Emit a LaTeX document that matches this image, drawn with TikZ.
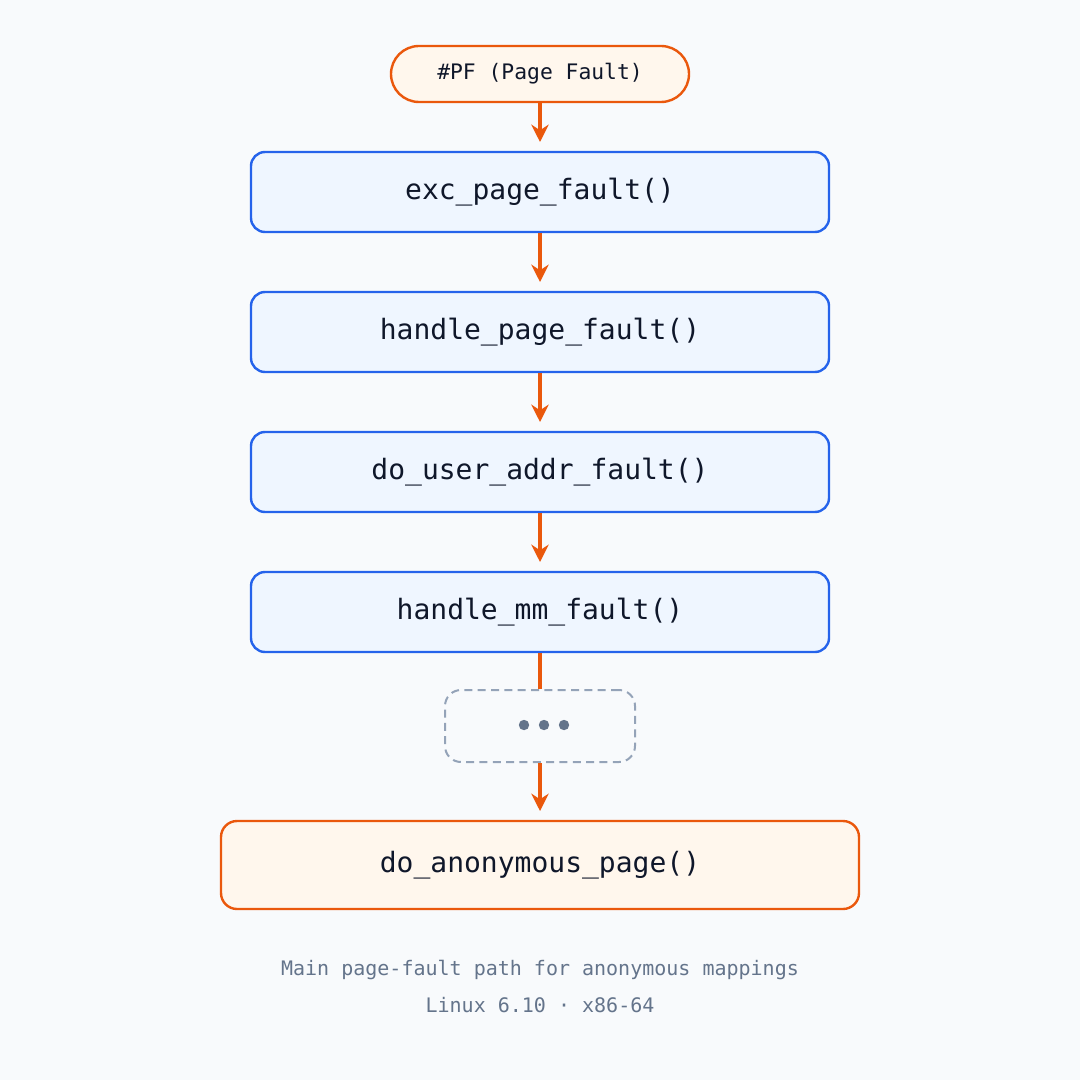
\documentclass[tikz,border=0pt]{standalone}
\usepackage{fontspec}
\setmonofont{DejaVu Sans Mono}
\usetikzlibrary{arrows.meta}
\definecolor{bg}{HTML}{F8FAFC}
\definecolor{bluef}{HTML}{EFF6FF}
\definecolor{blues}{HTML}{2563EB}
\definecolor{orf}{HTML}{FFF7ED}
\definecolor{ors}{HTML}{EA580C}
\definecolor{grs}{HTML}{94A3B8}
\definecolor{grt}{HTML}{64748B}
\definecolor{txt}{HTML}{0F172A}
\begin{document}
\begin{tikzpicture}[x=0.75pt,y=-0.75pt,
  fn/.style={draw=blues,fill=bluef,line width=1.8pt,rounded corners=10.5pt,minimum width=433.5pt,minimum height=60pt,text=txt,font=\ttfamily\fontsize{21}{24}\selectfont,inner sep=0pt},
  hot/.style={draw=ors,fill=orf,line width=1.8pt,text=txt,inner sep=0pt},
  arr/.style={draw=ors,line width=3pt,-{Stealth[length=13pt,width=13pt]}},
  captxt/.style={text=grt,font=\ttfamily\fontsize{15}{18}\selectfont}]
\fill[bg] (0,0) rectangle (1080,1080);
\node[hot,rounded corners=21pt,minimum width=223.5pt,minimum height=42pt,font=\ttfamily\fontsize{16}{19}\selectfont] (pf) at (540,74) {\#PF (Page Fault)};
\node[fn] (a) at (540,192) {exc\_page\_fault()};
\node[fn] (b) at (540,332) {handle\_page\_fault()};
\node[fn] (c) at (540,472) {do\_user\_addr\_fault()};
\node[fn] (d) at (540,612) {handle\_mm\_fault()};
\node[draw=grs,dashed,dash pattern=on 6pt off 4pt,line width=1.5pt,rounded corners=12pt,minimum width=142.5pt,minimum height=54pt] (e) at (540,726) {};
\foreach \x in {524,544,564} \fill[grt] (\x,725) circle (5.2);
\node[hot,rounded corners=12pt,minimum width=478.5pt,minimum height=66pt,font=\ttfamily\fontsize{21}{24}\selectfont] (f) at (540,865) {do\_anonymous\_page()};
\coordinate (t1) at (540,142);
\coordinate (t2) at (540,282);
\coordinate (t3) at (540,422);
\coordinate (t4) at (540,562);
\coordinate (t6) at (540,811);
\draw[arr] (pf) -- (t1);
\draw[arr] (a) -- (t2);
\draw[arr] (b) -- (t3);
\draw[arr] (c) -- (t4);
\draw[ors,line width=3pt] (d) -- (e);
\draw[arr] (e) -- (t6);
\node[captxt] (c1) at (540,970) {Main page-fault path for anonymous mappings};
\node[captxt] (c2) at (540,1005) {Linux 6.10 · x86-64};
\end{tikzpicture}
\end{document}
